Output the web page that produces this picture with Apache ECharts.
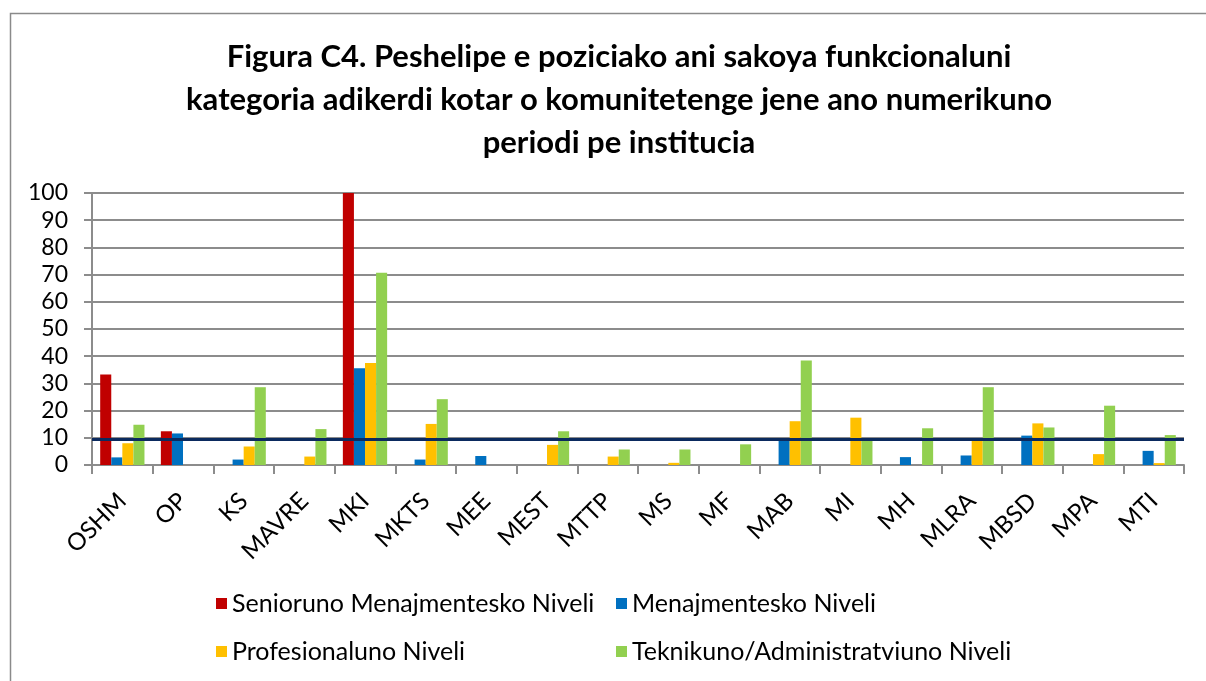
<!DOCTYPE html>
<html>
<head>
<meta charset="utf-8">
<script src="https://cdn.jsdelivr.net/npm/echarts@6/dist/echarts.min.js"></script>
<style>
html,body{margin:0;padding:0;background:#fff;}
#c{width:1206px;height:681px;}
</style>
</head>
<body>
<div id="c"></div>
<script>
const categories = ['OSHM','OP','KS','MAVRE','MKI','MKTS','MEE','MEST','MTTP','MS','MF','MAB','MI','MH','MLRA','MBSD','MPA','MTI'];
const seriesNames = ['Seniorunо Menajmentesko Niveli'.replace('о','o'),'Menajmentesko Niveli','Profesionaluno Niveli','Teknikuno/Administratviuno Niveli'];
const senior   = [33.3, 12.4, 0, 0, 100, 0, 0, 0, 0, 0, 0, 0, 0, 0, 0, 0, 0, 0];
const menaj    = [2.8, 11.6, 2.0, 0, 35.6, 2.0, 3.3, 0, 0, 0, 0, 9.5, 0, 2.9, 3.5, 10.8, 0, 5.2];
const profes   = [8.0, 0, 6.8, 3.1, 37.5, 15.1, 0, 7.4, 3.1, 0.8, 0, 16.1, 17.4, 0, 9.0, 15.3, 4.0, 0.7];
const teknik   = [14.8, 0, 28.6, 13.2, 70.7, 24.2, 0, 12.4, 5.7, 5.7, 7.6, 38.4, 9.3, 13.5, 28.6, 13.8, 21.8, 11.0];
const refLine  = 9.3;
const yTicks   = [0,10,20,30,40,50,60,70,80,90,100];
const titleLines = ['Figura C4. Peshelipe e poziciako ani sakoya funkcionaluni','kategoria adikerdi kotar o komunitetenge jene ano numerikuno','periodi pe institucia'];

const colors = ['#C00000','#0070C0','#FFC000','#92D050'];
const FONT = 'Lato';
const chart = echarts.init(document.getElementById('c'), null, {renderer:'canvas'});
const dataSets = [senior, menaj, profes, teknik];

const series = dataSets.map((d,i)=>({
  name: seriesNames[i],
  type: 'bar',
  data: d,
  barGap: '0%',
  barCategoryGap: '27%',
  itemStyle: {color: colors[i]},
  animation: false,
  z: 2
}));
series[3].markLine = {
  silent: true,
  symbol: ['none','none'],
  label: {show:false},
  lineStyle: {color:'#0B2A5E', width:3, type:'solid'},
  data: [{yAxis: refLine}],
  animation: false,
  z: 5
};

chart.setOption({
  animation: false,
  backgroundColor: '#fff',
  color: colors,
  textStyle: {fontFamily: FONT},
  title: {
    text: titleLines.join('\n'),
    left: 614, textAlign: 'center', top: 30,
    textStyle: {fontFamily: FONT, fontWeight: 'bold', fontSize: 31, lineHeight: 43, color: '#000'}
  },
  graphic: [{
    type: 'rect', shape: {x: 10.5, y: 13.5, width: 1220, height: 700},
    style: {fill: 'none', stroke: '#8a8a8a', lineWidth: 1.5}, silent: true
  }],
  grid: {left: 92, right: 22, top: 193, bottom: 216, containLabel: false},
  xAxis: {
    type: 'category', data: categories,
    axisLine: {lineStyle: {color: '#8c8c8c', width: 2}},
    axisTick: {show: true, length: 9, lineStyle: {color: '#8c8c8c', width: 2}},
    axisLabel: {rotate: 45, color: '#000', fontSize: 24, fontFamily: FONT, margin: 32, interval: 0}
  },
  yAxis: {
    type: 'value', min: 0, max: 100, interval: 10,
    axisLine: {show: true, lineStyle: {color: '#8c8c8c', width: 2}},
    axisTick: {show: true, length: 8, lineStyle: {color: '#8c8c8c', width: 2}},
    splitLine: {lineStyle: {color: '#8c8c8c', width: 2}},
    axisLabel: {color: '#000', fontSize: 23, fontFamily: FONT, margin: 24,
      formatter: v => yTicks.includes(v) ? String(v) : ''}
  },
  legend: [
    {data: [seriesNames[0], seriesNames[2]], orient: 'vertical', left: 211, top: 586,
     itemWidth: 11, itemHeight: 11, itemGap: 23, icon: 'rect',
     textStyle: {fontSize: 25, fontFamily: FONT, color: '#000'}},
    {data: [seriesNames[1], seriesNames[3]], orient: 'vertical', left: 611, top: 586,
     itemWidth: 11, itemHeight: 11, itemGap: 23, icon: 'rect',
     textStyle: {fontSize: 25, fontFamily: FONT, color: '#000'}}
  ],
  series: series
});
</script>
</body>
</html>
